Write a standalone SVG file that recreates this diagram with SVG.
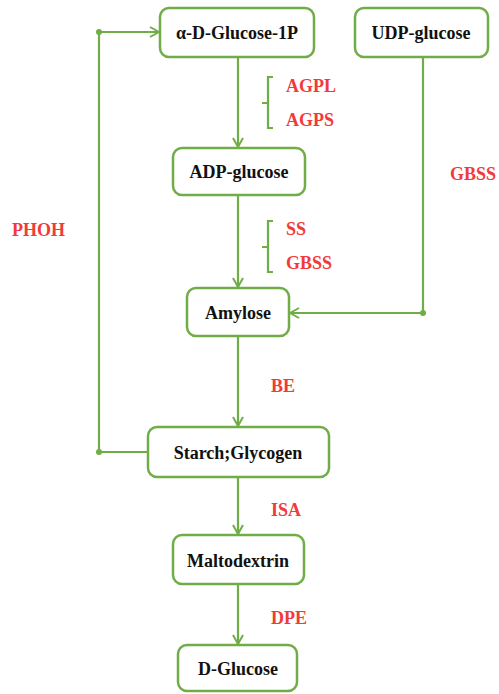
<svg xmlns="http://www.w3.org/2000/svg" width="499" height="694" viewBox="0 0 499 694">
<defs>
<style>
.node rect{fill:#fff;stroke:#70AD47;stroke-width:2.5}
.node text{font-family:"Liberation Serif",serif;font-weight:bold;font-size:18px;fill:#111;text-anchor:middle;dominant-baseline:central}
.lbl{font-family:"Liberation Serif",serif;font-weight:bold;font-size:18px;fill:#F23A3A}
.conn{fill:none;stroke:#70AD47;stroke-width:2.2}
</style>
<marker id="arr" viewBox="0 0 12 12" refX="11" refY="6" markerWidth="12" markerHeight="12" markerUnits="userSpaceOnUse" orient="auto">
<polyline points="2,1 11,6 2,11" fill="none" stroke="#70AD47" stroke-width="2"/>
</marker>
</defs>
<rect width="499" height="694" fill="#fff"/>
<g id="connectors">
<line class="conn" x1="238" y1="57" x2="238" y2="147" marker-end="url(#arr)"/>
<line class="conn" x1="238" y1="195" x2="238" y2="287" marker-end="url(#arr)"/>
<line class="conn" x1="238" y1="336" x2="238" y2="426" marker-end="url(#arr)"/>
<line class="conn" x1="238" y1="477" x2="238" y2="534" marker-end="url(#arr)"/>
<line class="conn" x1="238" y1="584" x2="238" y2="644" marker-end="url(#arr)"/>
<polyline class="conn" points="423,57 423,313 290,313" marker-end="url(#arr)"/>
<circle cx="423" cy="313" r="3" fill="#70AD47"/>
<polyline class="conn" points="148,452 99,452 99,32 159,32" marker-end="url(#arr)"/>
<circle cx="99" cy="452" r="3" fill="#70AD47"/>
<circle cx="99" cy="32" r="3" fill="#70AD47"/>
<path class="conn" d="M273,77 H268 V128 H273 M268,103 H262"/>
<path class="conn" d="M273,221 H268 V272 H273 M268,247 H262"/>
</g>
<g id="labels">
<text class="lbl" x="286" y="92">AGPL</text>
<text class="lbl" x="286" y="126">AGPS</text>
<text class="lbl" x="286" y="235">SS</text>
<text class="lbl" x="286" y="269">GBSS</text>
<text class="lbl" x="450" y="180">GBSS</text>
<text class="lbl" x="12" y="236">PHOH</text>
<text class="lbl" x="271" y="392">BE</text>
<text class="lbl" x="271" y="516">ISA</text>
<text class="lbl" x="271" y="624">DPE</text>
</g>
<g id="n-g1p" class="node"><rect x="160" y="8" width="154" height="49" rx="9"/><text x="237" y="33">α-D-Glucose-1P</text></g>
<g id="n-udp" class="node"><rect x="355" y="8" width="133" height="49" rx="9"/><text x="421" y="33">UDP-glucose</text></g>
<g id="n-adp" class="node"><rect x="173" y="148" width="132" height="47" rx="9"/><text x="239" y="172">ADP-glucose</text></g>
<g id="n-amylose" class="node"><rect x="187" y="288" width="102" height="48" rx="9"/><text x="238" y="313">Amylose</text></g>
<g id="n-starch" class="node"><rect x="148" y="427" width="181" height="50" rx="9"/><text x="238" y="453">Starch;Glycogen</text></g>
<g id="n-malto" class="node"><rect x="173" y="535" width="131" height="49" rx="9"/><text x="238" y="561">Maltodextrin</text></g>
<g id="n-dglc" class="node"><rect x="178" y="645" width="119" height="46" rx="9"/><text x="238" y="669">D-Glucose</text></g>
</svg>
